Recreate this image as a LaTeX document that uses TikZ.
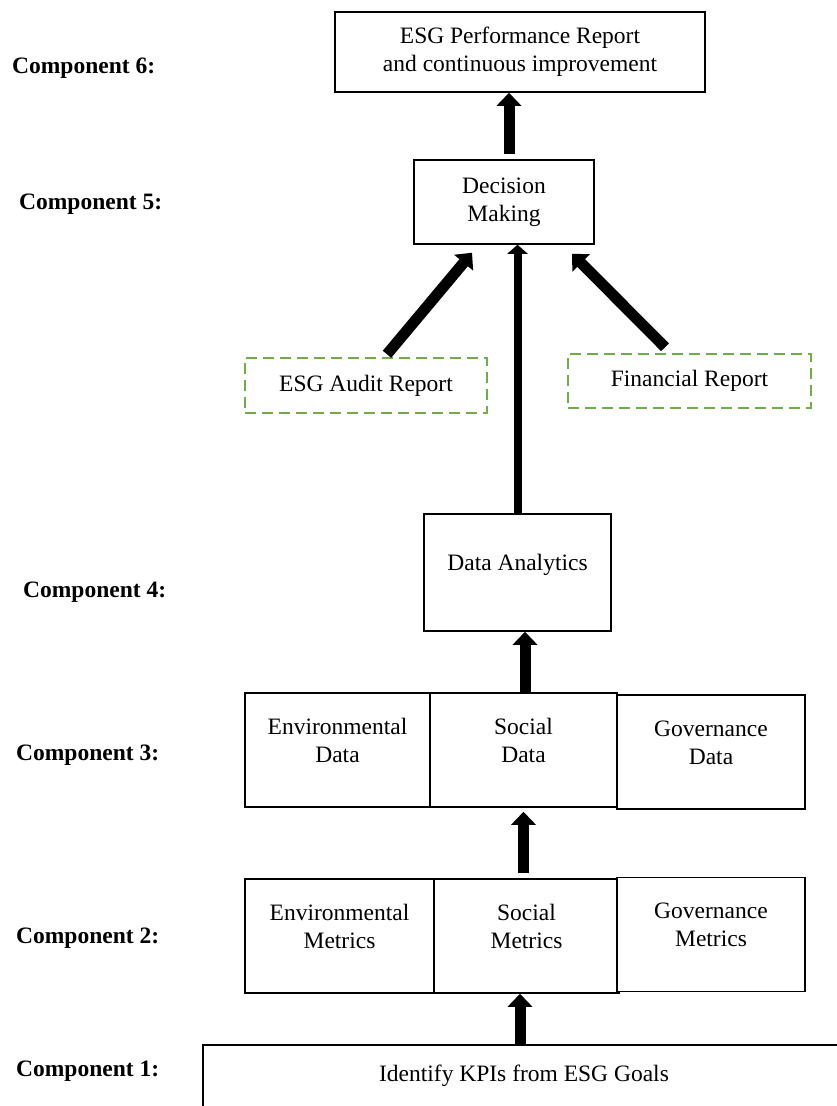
\documentclass[tikz,border=0pt]{standalone}
\usepackage{fontspec}
\setmainfont{Liberation Serif}
\usepackage{xcolor}
\usetikzlibrary{positioning,arrows.meta}

\definecolor{auditgreen}{RGB}{112,173,71}

\begin{document}
\begin{tikzpicture}[
    x=1pt, y=-1pt,
    >={Triangle[width=24pt,length=13pt]},
    box/.style      = {rectangle, draw=black, line width=1.5pt, fill=white,
                       align=center, inner sep=0pt,
                       font=\fontsize{23.5}{28}\selectfont},
    extbox/.style   = {box, draw=auditgreen, dash pattern=on 11pt off 6pt},
    row/.style      = {box, minimum height=114pt, text height=44pt, text depth=20pt},
    comp/.style     = {anchor=west, inner sep=0pt,
                       font=\fontsize{23.5}{28}\selectfont\bfseries},
    flow/.style     = {->, line width=11pt},
    longflow/.style = {-{Triangle[width=20pt,length=9pt]}, line width=8pt},
]
\useasboundingbox (0,0) rectangle (837,1106);
\clip (0,0) rectangle (837,1106);

% ============================ component labels ============================
\node[comp] (c6) at (12,68)   {Component 6:};
\node[comp] (c5) at (19,204)  {Component 5:};
\node[comp] (c4) at (23,592)  {Component 4:};
\node[comp] (c3) at (16,755)  {Component 3:};
\node[comp] (c2) at (16,938)  {Component 2:};
\node[comp] (c1) at (16,1071) {Component 1:};

% ============================ components 6 and 5 ==========================
\node[box, minimum width=370pt, minimum height=80pt] (perf) at (520,52)
     {ESG Performance Report\\and continuous improvement};
\node[box, minimum width=180pt, minimum height=84pt] (dec) at (504,202)
     {Decision\\Making};
% external reports feeding the decision
\node[extbox, minimum width=242pt, minimum height=55pt] (audit) at (366,385.5)
     {ESG Audit Report};
\node[extbox, minimum width=243pt, minimum height=54pt] (fin) at (689.5,381)
     {Financial Report};

% ============================ component 4 =================================
\node[box, minimum width=187pt, minimum height=117pt,
      text height=16pt, text depth=20pt] (ana) at (517.5,572.5) {Data Analytics};

% ============================ components 3 and 2 ==========================
\node[row, minimum width=185pt] (envdat) at (337.5,750) {Environmental\\Data};
\node[row, minimum width=187pt] (socdat) at (523.5,750) {Social\\Data};
\node[row, minimum width=188pt] (govdat) at (711,752)   {Governance\\Data};

\node[row, minimum width=189pt] (envmet) at (339.5,936) {Environmental\\Metrics};
\node[row, minimum width=185pt] (socmet) at (526.5,936) {Social\\Metrics};
\node[row, minimum width=188pt] (govmet) at (711,934.5) {Governance\\Metrics};

% ============================ component 1 =================================
\node[box, minimum width=642pt, minimum height=75pt,
      text height=16pt, text depth=19pt] (kpi) at (524,1082.5)
     {Identify KPIs from ESG Goals};

% ============================ arrows ======================================
\draw[flow] ([xshift=-4pt]kpi.north) -- ([xshift=-4pt]kpi.north |- socmet.south);
\draw[flow, shorten <=5pt, shorten >=4pt]
     ([xshift=-3pt]socmet.north) -- ([xshift=-3pt]socmet.north |- socdat.south);
\draw[flow] ([xshift=1.5pt]socdat.north) -- ([xshift=1.5pt]socdat.north |- ana.south);
\draw[longflow] (ana.north) -- (ana.north |- dec.south);
\draw[flow] ([xshift=21pt,yshift=3pt]audit.north) -- ([xshift=-32pt,yshift=-8pt]dec.south);
\draw[flow] ([xshift=-24.5pt,yshift=6pt]fin.north) -- ([xshift=68pt,yshift=-9pt]dec.south);
\draw[flow, shorten <=5pt] ([xshift=5pt]dec.north) -- ([xshift=5pt]dec.north |- perf.south);

\end{tikzpicture}
\end{document}
